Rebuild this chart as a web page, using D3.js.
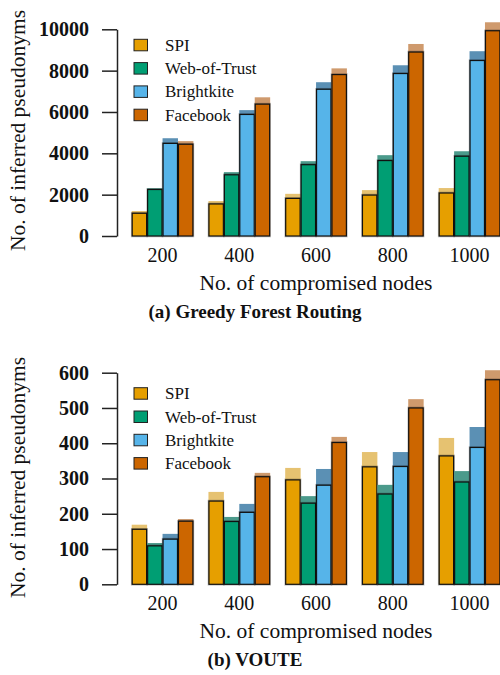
<!DOCTYPE html>
<html lang="en">
<head>
<meta charset="UTF-8">
<title>Inferred pseudonyms</title>
<script src="https://cdnjs.cloudflare.com/ajax/libs/d3/7.8.5/d3.min.js"></script>
<style>
    body { margin: 0; background: #fff; }
    svg { display: block; font-family: "Liberation Serif", "DejaVu Serif", serif; }
</style>
</head>
<body>
<div id="chart"></div>
<script>
    // x categories and series
    const groups = ["200", "400", "600", "800", "1000"];
    const series = ["SPI", "Web-of-Trust", "Brightkite", "Facebook"];

    // series colours: solid bar, lighter top segment
    const colours = ["#e69f00", "#009e73", "#56b4e9", "#cc6600"];
    const lightColours = ["#e6c271", "#4b9a8b", "#5b90b4", "#cf9a6d"];

    // (a) Greedy Forest Routing: main value and upper value per series
    const gfrSpi = [1100, 1550, 1820, 1980, 2080];
    const gfrSpiTop = [1210, 1690, 2040, 2220, 2320];
    const gfrWot = [2250, 2960, 3450, 3650, 3860];
    const gfrWotTop = [2310, 3090, 3620, 3910, 4100];
    const gfrBk = [4480, 5880, 7100, 7860, 8490];
    const gfrBkTop = [4730, 6090, 7440, 8260, 8940];
    const gfrFb = [4440, 6380, 7810, 8900, 9930];
    const gfrFbTop = [4590, 6710, 8110, 9290, 10340];
    const gfrTicks = [0, 2000, 4000, 6000, 8000, 10000];

    // (b) VOUTE
    const vouteSpi = [156, 236, 296, 333, 364];
    const vouteSpiTop = [169, 262, 330, 375, 415];
    const vouteWot = [109, 178, 230, 256, 290];
    const vouteWotTop = [117, 191, 250, 282, 321];
    const vouteBk = [128, 204, 281, 334, 388];
    const vouteBkTop = [143, 228, 327, 375, 446];
    const vouteFb = [179, 305, 402, 500, 580];
    const vouteFbTop = [185, 316, 418, 525, 607];
    const vouteTicks = [0, 100, 200, 300, 400, 500, 600];

    const width = 500, height = 675;
    const axisX = 117;

    const svg = d3.select('#chart').append('svg')
        .attr('width', width)
        .attr('height', height);

    // groups share one band scale across both panels
    const x = d3.scaleBand()
        .domain(groups)
        .range([131.7, 500.4])
        .paddingInner(0.196)
        .paddingOuter(0);

    const xs = d3.scaleBand()
        .domain(series)
        .range([0, x.bandwidth()]);

    const drawPanel = (p) => {
        const y = d3.scaleLinear()
            .domain([0, p.max])
            .range([p.bottom, p.top]);

        const g = svg.append('g');

        // build a row per (group, series)
        const rows = [];
        groups.forEach((grp, i) => {
            series.forEach((s, j) => {
                rows.push({ grp: grp, s: s, j: j, main: p.main[j][i], upper: p.upper[j][i] });
            });
        });

        const bars = g.selectAll('.bar')
            .data(rows)
            .enter()
            .append('g')
            .attr('transform', d => 'translate(' + (x(d.grp) + xs(d.s)) + ',0)');

        // lighter upper segment
        bars.append('rect')
            .attr('x', 0)
            .attr('width', xs.bandwidth())
            .attr('y', d => y(d.upper))
            .attr('height', d => y(0) - y(d.upper))
            .attr('fill', d => lightColours[d.j]);

        // soft shadow edge
        bars.append('rect')
            .attr('x', 0.5)
            .attr('width', xs.bandwidth() - 1)
            .attr('y', d => y(d.main))
            .attr('height', d => y(0) - y(d.main))
            .attr('fill', 'none')
            .attr('stroke', '#000')
            .attr('stroke-opacity', 0.25)
            .attr('stroke-width', 2.6);

        // main bar
        bars.append('rect')
            .attr('x', 0.5)
            .attr('width', xs.bandwidth() - 1)
            .attr('y', d => y(d.main))
            .attr('height', d => y(0) - y(d.main))
            .attr('fill', d => colours[d.j])
            .attr('stroke', '#111')
            .attr('stroke-width', 1.2);

        // y axis
        const yAxis = g.append('g')
            .attr('transform', 'translate(' + axisX + ',0)')
            .call(d3.axisLeft(y)
                .tickValues(p.ticks)
                .tickFormat(d3.format('d'))
                .tickSizeInner(15)
                .tickSizeOuter(0)
                .tickPadding(13));
        yAxis.select('.domain').attr('stroke', '#222').attr('stroke-width', 1.5);
        yAxis.selectAll('.tick line').attr('stroke', '#222').attr('stroke-width', 1.5);
        yAxis.selectAll('.tick text')
            .attr('fill', '#111')
            .style('font-family', '"Liberation Serif", serif')
            .style('font-size', '20px')
            .style('font-weight', 'bold');

        // x tick labels
        g.selectAll('.xlabel')
            .data(groups)
            .enter()
            .append('text')
            .attr('x', d => x(d) + x.bandwidth() / 2)
            .attr('y', y(0) + 26)
            .attr('text-anchor', 'middle')
            .attr('fill', '#111')
            .style('font-size', '20px')
            .text(d => d);

        // axis titles
        g.append('text')
            .attr('x', 316)
            .attr('y', y(0) + 53.5)
            .attr('text-anchor', 'middle')
            .attr('fill', '#111')
            .style('font-size', '21.5px')
            .text('No. of compromised nodes');

        g.append('text')
            .attr('transform', 'translate(25,' + p.titleMid + ') rotate(-90)')
            .attr('text-anchor', 'middle')
            .attr('fill', '#111')
            .style('font-size', '21.5px')
            .text('No. of inferred pseudonyms');

        // caption
        g.append('text')
            .attr('x', 255)
            .attr('y', y(0) + 82)
            .attr('text-anchor', 'middle')
            .attr('fill', '#111')
            .style('font-size', '19px')
            .style('font-weight', 'bold')
            .text(p.caption);

        // legend
        const legend = g.selectAll('.legend')
            .data(series)
            .enter()
            .append('g')
            .attr('transform', (d, i) => 'translate(134,' + (p.legendTop + i * 23.3) + ')');

        legend.append('rect')
            .attr('width', 13.5)
            .attr('height', 11.5)
            .attr('fill', (d, i) => colours[i])
            .attr('stroke', '#222')
            .attr('stroke-width', 1);

        legend.append('text')
            .attr('x', 31)
            .attr('y', 11.5)
            .attr('fill', '#111')
            .style('font-size', '17px')
            .text(d => d);
    };

    drawPanel({
        max: 10000, top: 29.3, bottom: 236,
        ticks: gfrTicks,
        main: [gfrSpi, gfrWot, gfrBk, gfrFb],
        upper: [gfrSpiTop, gfrWotTop, gfrBkTop, gfrFbTop],
        titleMid: 130.5, legendTop: 39.3,
        caption: '(a) Greedy Forest Routing'
    });

    drawPanel({
        max: 600, top: 372.7, bottom: 584.3,
        ticks: vouteTicks,
        main: [vouteSpi, vouteWot, vouteBk, vouteFb],
        upper: [vouteSpiTop, vouteWotTop, vouteBkTop, vouteFbTop],
        titleMid: 477.5, legendTop: 387.7,
        caption: '(b) VOUTE'
    });
</script>
</body>
</html>
